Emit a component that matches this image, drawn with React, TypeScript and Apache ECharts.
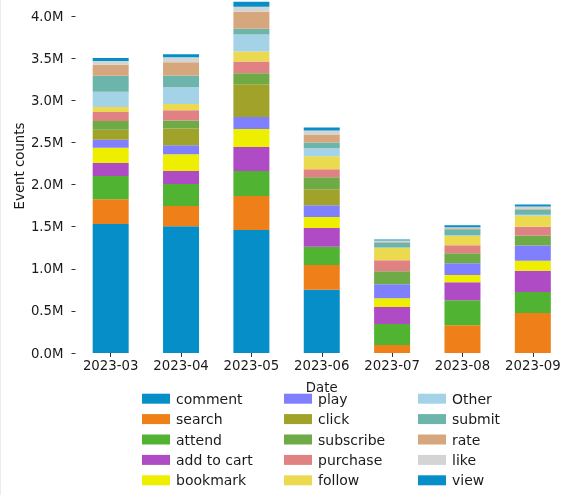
import React, { useEffect, useRef } from "react";
import * as echarts from "echarts";

const months = ["2023-03", "2023-04", "2023-05", "2023-06", "2023-07", "2023-08", "2023-09"];

// values in millions of events
const comment = [1.53, 1.505, 1.46, 0.75, 0, 0, 0];
const search = [0.295, 0.24, 0.405, 0.295, 0.095, 0.33, 0.475];
const attend = [0.275, 0.26, 0.295, 0.215, 0.25, 0.295, 0.25];
const addToCart = [0.155, 0.155, 0.285, 0.225, 0.2, 0.215, 0.25];
const bookmark = [0.18, 0.2, 0.215, 0.13, 0.105, 0.085, 0.12];
const play = [0.095, 0.105, 0.14, 0.14, 0.165, 0.14, 0.18];
const click = [0.12, 0.2, 0.39, 0.19, 0, 0, 0];
const subscribe = [0.105, 0.095, 0.13, 0.14, 0.155, 0.12, 0.12];
const purchase = [0.105, 0.12, 0.14, 0.095, 0.13, 0.095, 0.105];
const follow = [0.06, 0.075, 0.12, 0.155, 0.145, 0.11, 0.13];
const other = [0.18, 0.2, 0.2, 0.095, 0.008, 0.008, 0.012];
const submit = [0.19, 0.14, 0.07, 0.07, 0.06, 0.07, 0.06];
const rate = [0.13, 0.155, 0.2, 0.095, 0.006, 0.012, 0.006];
const like = [0.047, 0.06, 0.06, 0.047, 0.015, 0.012, 0.03];
const view = [0.036, 0.036, 0.06, 0.036, 0.012, 0.024, 0.024];

// y tick values (millions)
const yTicks = [0, 0.5, 1.0, 1.5, 2.0, 2.5, 3.0, 3.5, 4.0];

const seriesNames = [
  "comment", "search", "attend", "add to cart", "bookmark",
  "play", "click", "subscribe", "purchase", "follow",
  "Other", "submit", "rate", "like", "view",
];
const seriesValues = [
  comment, search, attend, addToCart, bookmark,
  play, click, subscribe, purchase, follow,
  other, submit, rate, like, view,
];
const seriesColors = [
  "#068ec8", "#ee7f19", "#50b432", "#ae4bc5", "#eeee00",
  "#8080ff", "#a0a229", "#6eaa45", "#e08283", "#ebd94f",
  "#a4d3e7", "#6db4aa", "#d6a77c", "#d4d4d4", "#068ec8",
];

const FONT = "DejaVu Sans";

export default function App() {
  const ref = useRef<HTMLDivElement>(null);
  useEffect(() => {
    if (!ref.current) return;
    const chart = echarts.init(ref.current, undefined, { renderer: "svg" });
    const tickVals = yTicks.map((t) => Math.round(t * 1e6));
    const legendCol = (names: string[], left: number) => ({
      orient: "vertical",
      left,
      top: 391.7,
      itemWidth: 28,
      itemHeight: 10,
      itemGap: 6.4,
      icon: "rect",
      data: names,
      selectedMode: false,
      textStyle: { fontFamily: FONT, fontSize: 14, color: "#1a1a1a", lineHeight: 14, padding: [0, 0, 0, 1] },
      padding: 0,
    });
    chart.setOption({
      animation: false,
      color: seriesColors,
      grid: { left: 75.5, width: 495, top: 0, height: 353, containLabel: false },
      xAxis: {
        type: "category",
        data: months,
        name: "Date",
        nameLocation: "middle",
        nameGap: 28,
        nameTextStyle: { fontFamily: FONT, fontSize: 13.3, color: "#1a1a1a" },
        axisLine: { show: false },
        axisTick: { show: true, alignWithLabel: true, length: 4, lineStyle: { color: "#333" } },
        axisLabel: { fontFamily: FONT, fontSize: 13.3, color: "#1a1a1a", margin: 6, interval: 0 },
      },
      yAxis: {
        type: "value",
        min: 0,
        max: 4190000,
        interval: 500000,
        axisLine: { show: false },
        axisTick: { show: true, length: 4, lineStyle: { color: "#333" }, customValues: tickVals },
        splitLine: { show: false },
        axisLabel: {
          fontFamily: FONT,
          fontSize: 13.3,
          color: "#1a1a1a",
          margin: 12,
          customValues: tickVals,
          formatter: (v: number) =>
            Math.abs(v % 500000) < 1 ? (v / 1e6).toFixed(1) + "M" : "",
        },
      },
      legend: [
        legendCol(seriesNames.slice(0, 5), 142),
        legendCol(seriesNames.slice(5, 10), 284),
        legendCol(seriesNames.slice(10, 15), 418),
      ],
      graphic: [
        { type: "rect", shape: { x: 0, y: 0, width: 1, height: 495 }, style: { fill: "#ececec" } },
        {
          type: "text",
          x: 19,
          y: 166,
          rotation: Math.PI / 2,
          style: {
            text: "Event counts",
            fontFamily: FONT,
            fontSize: 13.3,
            fill: "#1a1a1a",
            align: "center",
            verticalAlign: "middle",
          },
        },
      ],
      series: seriesNames.map((name, i) => ({
        name,
        type: "bar",
        stack: "total",
        barWidth: 36,
        itemStyle: { color: seriesColors[i] },
        data: seriesValues[i].map((v) => Math.round(v * 1e6)),
      })),
    });
    return () => chart.dispose();
  }, []);
  return (
    <div
      ref={ref}
      style={{ position: "fixed", left: 0, top: 0, width: 568, height: 495 }}
    />
  );
}
